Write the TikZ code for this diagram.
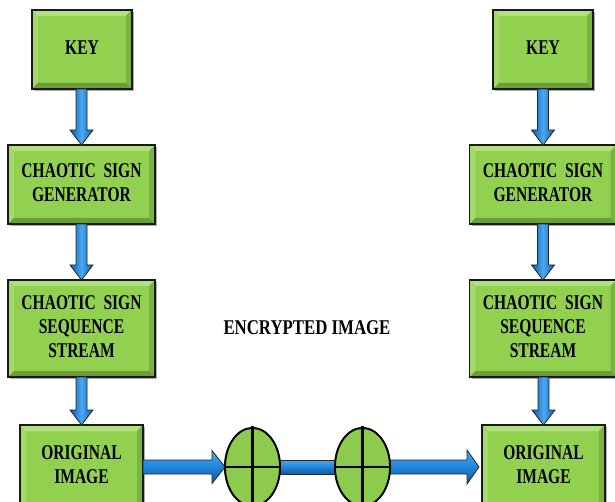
\documentclass[tikz,border=0pt]{standalone}
\usepackage{fontspec}
\setmainfont{Liberation Serif}
\usepackage{graphicx}
\usetikzlibrary{shapes.geometric,shadows,calc}
\definecolor{boxgreen}{HTML}{92D050}
\definecolor{bevtop}{HTML}{B2E07E}
\definecolor{bevleft}{HTML}{A3D96A}
\definecolor{bevright}{HTML}{7AB440}
\definecolor{bevbot}{HTML}{6C9E38}
\definecolor{ballgreen}{HTML}{8CCB4E}
\definecolor{arrdark}{HTML}{0B5CAD}
\definecolor{arrmid}{HTML}{1F84DA}
\definecolor{arrlight}{HTML}{4AA8F2}
\newcommand{\sq}[1]{\scalebox{0.74}[1]{\begin{tabular}{@{}c@{}}#1\end{tabular}}}
\newcommand{\downarr}[2]{%
  \coordinate (dA) at (#1.south -| #2.north);
  \coordinate (dB) at (#2.north);
  \shadedraw[varr] ($(dA)+(-5.5pt,0)$) -- ($(dB)+(-5.5pt,15pt)$) -- ($(dB)+(-11.5pt,15pt)$) -- (dB)
    -- ($(dB)+(11.5pt,15pt)$) -- ($(dB)+(5.5pt,15pt)$) -- ($(dA)+(5.5pt,0)$) -- cycle;}
\tikzset{
  gbox/.style={rectangle, draw=black!90, line width=1.4pt, fill=boxgreen, inner sep=0pt, outer sep=0pt,
    font=\fontsize{21}{24}\selectfont\bfseries,
    drop shadow={shadow xshift=2pt, shadow yshift=-2pt, opacity=0.45, fill=black!70},
    path picture={
      \fill[bevtop] (path picture bounding box.north west) -- (path picture bounding box.north east)
        -- ([shift={(-6pt,-6pt)}]path picture bounding box.north east) -- ([shift={(6pt,-6pt)}]path picture bounding box.north west) -- cycle;
      \fill[bevleft] (path picture bounding box.north west) -- (path picture bounding box.south west)
        -- ([shift={(6pt,6pt)}]path picture bounding box.south west) -- ([shift={(6pt,-6pt)}]path picture bounding box.north west) -- cycle;
      \fill[bevright] (path picture bounding box.north east) -- (path picture bounding box.south east)
        -- ([shift={(-6pt,6pt)}]path picture bounding box.south east) -- ([shift={(-6pt,-6pt)}]path picture bounding box.north east) -- cycle;
      \fill[bevbot] (path picture bounding box.south west) -- (path picture bounding box.south east)
        -- ([shift={(-6pt,6pt)}]path picture bounding box.south east) -- ([shift={(6pt,6pt)}]path picture bounding box.south west) -- cycle;
    }},
  xorball/.style={ellipse, draw=black, line width=1.8pt, fill=ballgreen, minimum width=55pt, minimum height=78pt, inner sep=0pt, outer sep=0pt},
  crossline/.style={draw=black, line width=2.4pt},
  varr/.style={left color=arrdark, right color=arrdark, middle color=arrlight, draw=black!85, line width=0.8pt},
  harr/.style={top color=arrlight, bottom color=arrdark, middle color=arrmid, draw=black!85, line width=0.8pt},
  plain/.style={font=\fontsize{21}{25}\selectfont\bfseries, inner sep=0pt}
}
\begin{document}
\begin{tikzpicture}[x=1pt,y=-1pt]
\useasboundingbox (0,0) rectangle (615,502);
\clip (0,0) rectangle (615,502);
\fill[white] (0,0) rectangle (615,502);
% left column
\node[gbox, minimum width=100pt, minimum height=79pt] (keyL) at (82,49.5) {\sq{KEY}};
\node[gbox, minimum width=147pt, minimum height=79pt] (cgsL) at (81.5,184.5) {\sq{CHAOTIC\ \ SIGN\\GENERATOR}};
\node[gbox, minimum width=147pt, minimum height=97pt] (cssL) at (81.5,328.5) {\sq{CHAOTIC\ \ SIGN\\SEQUENCE\\STREAM}};
\node[gbox, minimum width=123pt, minimum height=84pt] (oiL) at (81.5,467) {\sq{ORIGINAL\\IMAGE}};
% right column
\node[gbox, minimum width=100pt, minimum height=79pt] (keyR) at (543,49.5) {\sq{KEY}};
\node[gbox, minimum width=147pt, minimum height=79pt] (cgsR) at (543,184.5) {\sq{CHAOTIC\ \ SIGN\\GENERATOR}};
\node[gbox, minimum width=147pt, minimum height=97pt] (cssR) at (543,328.5) {\sq{CHAOTIC\ \ SIGN\\SEQUENCE\\STREAM}};
\node[gbox, minimum width=123pt, minimum height=84pt] (oiR) at (543.5,467) {\sq{ORIGINAL\\IMAGE}};
% middle label
\node[plain] (enc) at (307,328) {\scalebox{0.8}[1]{ENCRYPTED IMAGE}};
% xor balls
\node[xorball] (x1) at (252.5,467) {};
\node[xorball] (x2) at (362.5,467) {};
% vertical arrows
\downarr{keyL}{cgsL}
\downarr{cgsL}{cssL}
\downarr{cssL}{oiL}
\downarr{keyR}{cgsR}
\downarr{cgsR}{cssR}
\downarr{cssR}{oiR}
% horizontal arrows
\coordinate (hA) at (oiL.east |- x1.west);
\shadedraw[harr] ($(hA)+(0,7pt)$) -- ($(x1.west)+(-13pt,7pt)$) -- ($(x1.west)+(-13pt,16.5pt)$) -- (x1.west)
  -- ($(x1.west)+(-13pt,-16.5pt)$) -- ($(x1.west)+(-13pt,-7pt)$) -- ($(hA)+(0,-7pt)$) -- cycle;
\shadedraw[harr] ($(x1.east)+(0,7pt)$) -- ($(x2.west)+(0,7pt)$) -- ($(x2.west)+(0,-7pt)$) -- ($(x1.east)+(0,-7pt)$) -- cycle;
\coordinate (hB) at ([xshift=-3pt]oiR.west |- x2.east);
\shadedraw[harr] ($(x2.east)+(0,7pt)$) -- ($(hB)+(-12pt,7pt)$) -- ($(hB)+(-12pt,17pt)$) -- (hB)
  -- ($(hB)+(-12pt,-17pt)$) -- ($(hB)+(-12pt,-7pt)$) -- ($(x2.east)+(0,-7pt)$) -- cycle;
% redraw balls on top with crosses
\node[xorball] at (x1) {};
\node[xorball] at (x2) {};
\draw[crossline] ([yshift=2pt]x1.north) -- (x1.south);
\draw[crossline] (x1.west) -- (x1.east);
\draw[crossline] ([yshift=2pt]x2.north) -- (x2.south);
\draw[crossline] (x2.west) -- (x2.east);
\end{tikzpicture}
\end{document}
